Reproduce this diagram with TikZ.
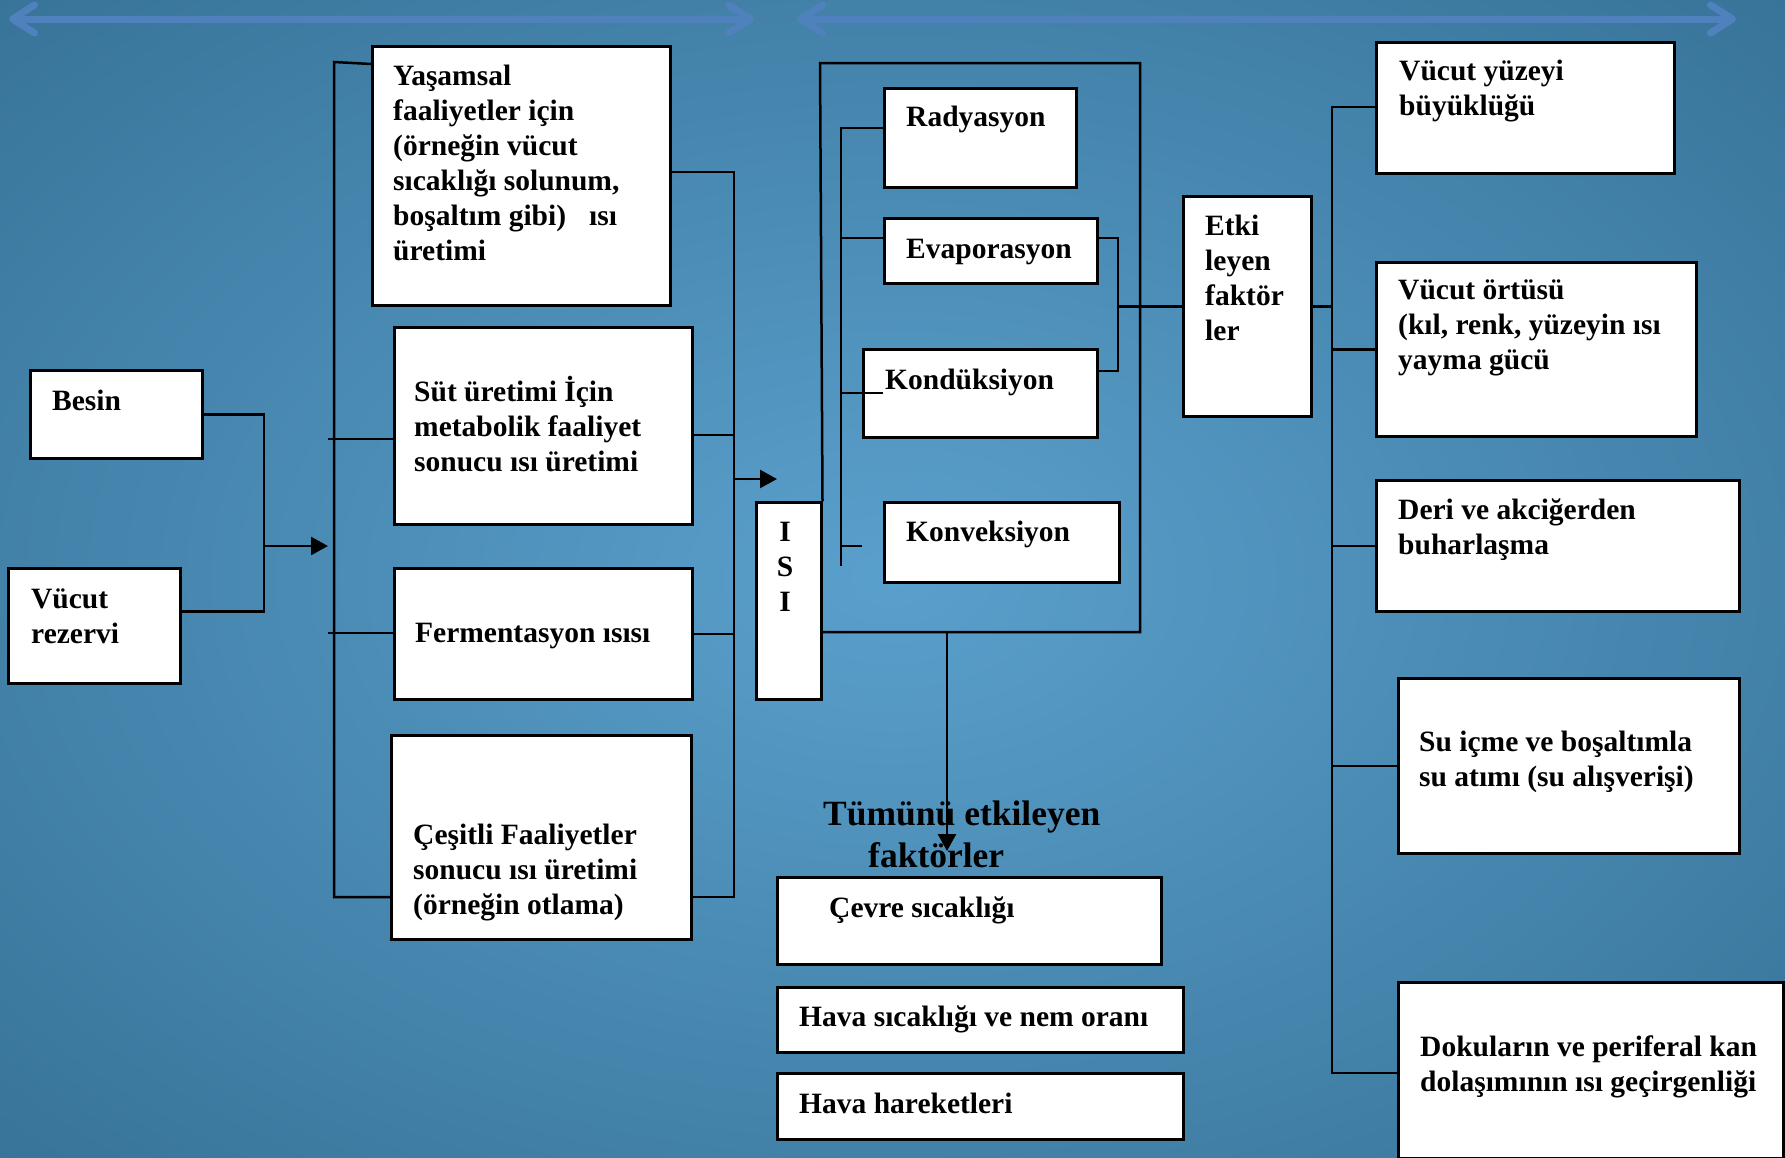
\documentclass[tikz,border=0pt]{standalone}
\usepackage{fontspec}
\setmainfont{Liberation Serif}
\usepackage{tikz}
\usetikzlibrary{arrows.meta,calc}

\definecolor{bgin}{HTML}{5AA0CC}
\definecolor{bgout}{HTML}{1B4D6D}
\definecolor{arrblue}{HTML}{4F81BD}
\pgfdeclareradialshading{bgshade}{\pgfpoint{0bp}{0bp}}{color(0bp)=(bgin); color(66bp)=(bgout)}

\tikzset{
  box/.style={draw, line width=2.5pt, fill=white, anchor=north west, inner sep=0pt},
  % text placed by the baseline of its first line
  txt/.style={anchor=north west, yshift=24.5pt, align=left, inner sep=0pt,
    execute at begin node=\strut, font=\bfseries\fontsize{29.5}{35}\selectfont},
  conn/.style={line width=2.5pt},
  arr/.style={conn, -{Triangle[length=17pt,width=18pt]}},
  topar/.style={draw=arrblue, line width=7pt, line cap=round,
    {Straight Barb[length=22pt,width=28pt,round]}-{Straight Barb[length=22pt,width=28pt,round]}}
}

\begin{document}
\begin{tikzpicture}[x=1pt,y=-1pt]
\useasboundingbox (0,0) rectangle (1785,1157);
\shade[shading=bgshade] (0,0) rectangle (1785,1157);

% top arrows
\coordinate (t1) at (9,19);
\coordinate (t2) at (754,19);
\coordinate (t3) at (797,19);
\coordinate (t4) at (1736,19);
\draw[topar] (t1) -- (t2);
\draw[topar] (t3) -- (t4);

% sources
\node[box, minimum width=172pt, minimum height=88pt] (besin) at (29,369) {};
\node[txt] (besin-t) at ([shift={(23,41)}]besin.north west) {Besin};
\node[box, minimum width=172pt, minimum height=115pt] (vucut) at (7,567) {};
\node[txt] (vucut-t) at ([shift={(24,46)}]vucut.north west) {Vücut\\rezervi};

% heat production
\node[box, minimum width=298pt, minimum height=259pt] (yasam) at (371,45) {};
\node[txt] (yasam-t) at ([shift={(22,44)}]yasam.north west)
  {Yaşamsal\\faaliyetler için\\(örneğin vücut\\sıcaklığı solunum,\\boşaltım gibi)\hspace{23pt}ısı\\üretimi};
\node[box, minimum width=298pt, minimum height=197pt] (sut) at (393,326) {};
\node[txt] (sut-t) at ([shift={(21,75)}]sut.north west)
  {Süt üretimi İçin\\metabolik faaliyet\\sonucu ısı üretimi};
\node[box, minimum width=298pt, minimum height=131pt] (ferm) at (393,567) {};
\node[txt] (ferm-t) at ([shift={(22,75)}]ferm.north west) {Fermentasyon ısısı};
\node[box, minimum width=300pt, minimum height=204pt] (cesit) at (390,734) {};
\node[txt] (cesit-t) at ([shift={(23,114)}]cesit.north west)
  {Çeşitli Faaliyetler\\sonucu ısı üretimi\\(örneğin otlama)};

% heat
\node[box, minimum width=65pt, minimum height=197pt] (isi) at (755,501) {};
\node[txt, anchor=north, align=center] (isi-t) at ([shift={(30,45)}]isi.north west) {I\\S\\I};

% heat loss
\node[box, minimum width=192pt, minimum height=99pt] (rad) at (883,87) {};
\node[txt] (rad-t) at ([shift={(23,39)}]rad.north west) {Radyasyon};
\node[box, minimum width=213pt, minimum height=65pt] (evap) at (883,217) {};
\node[txt] (evap-t) at ([shift={(23,41)}]evap.north west) {Evaporasyon};
\node[box, minimum width=234pt, minimum height=88pt] (kond) at (862,348) {};
\node[txt] (kond-t) at ([shift={(23,41)}]kond.north west) {Kondüksiyon};
\node[box, minimum width=235pt, minimum height=80pt] (konv) at (883,501) {};
\node[txt] (konv-t) at ([shift={(23,40)}]konv.north west) {Konveksiyon};

\node[box, minimum width=128pt, minimum height=220pt] (etki) at (1182,195) {};
\node[txt] (etki-t) at ([shift={(23,44)}]etki.north west) {Etki\\leyen\\faktör\\ler};

% affecting factors
\node[box, minimum width=298pt, minimum height=131pt] (yuzey) at (1375,41) {};
\node[txt] (yuzey-t) at ([shift={(24,43)}]yuzey.north west) {Vücut yüzeyi\\büyüklüğü};
\node[box, minimum width=320pt, minimum height=174pt] (ortu) at (1375,261) {};
\node[txt] (ortu-t) at ([shift={(23,43)}]ortu.north west)
  {Vücut örtüsü\\(kıl, renk, yüzeyin ısı\\yayma gücü};
\node[box, minimum width=363pt, minimum height=131pt] (deri) at (1375,479) {};
\node[txt] (deri-t) at ([shift={(23,44)}]deri.north west) {Deri ve akciğerden\\buharlaşma};
\node[box, minimum width=341pt, minimum height=175pt] (suic) at (1397,677) {};
\node[txt] (suic-t) at ([shift={(22,78)}]suic.north west)
  {Su içme ve boşaltımla\\su atımı (su alışverişi)};
\node[box, minimum width=385pt, minimum height=176pt] (doku) at (1397,981) {};
\node[txt] (doku-t) at ([shift={(23,79)}]doku.north west)
  {Dokuların ve periferal kan\\dolaşımının ısı geçirgenliği};

% environment
\node[txt, yshift=4.9pt, font=\bfseries\fontsize{35.5}{42}\selectfont] (title) at (823,830)
  {Tümünü etkileyen\\\hspace*{45pt}faktörler};
\node[box, minimum width=384pt, minimum height=87pt] (cevre) at (776,876) {};
\node[txt] (cevre-t) at ([shift={(53,41)}]cevre.north west) {Çevre sıcaklığı};
\node[box, minimum width=406pt, minimum height=65pt] (hava) at (776,986) {};
\node[txt] (hava-t) at ([shift={(23,40)}]hava.north west) {Hava sıcaklığı ve nem oranı};
\node[box, minimum width=406pt, minimum height=66pt] (harek) at (776,1072) {};
\node[txt] (harek-t) at ([shift={(23,41)}]harek.north west) {Hava hareketleri};

% left side connectors
\coordinate (jn) at (264,546);
\coordinate (jn-e) at (328,546);
\draw[conn] (besin.east) -| (jn);
\draw[conn] ([yshift=14.5pt]vucut.east) -| (jn);
\draw[arr] (jn) -- (jn-e);

\coordinate (lb1) at (334,62);
\coordinate (lb2) at (334,897);
\draw[conn] ([yshift=-19pt]yasam.north west) -- (lb1) -- (lb2) -- (lb2 -| cesit.west);
\coordinate (ls1) at (328,439);
\coordinate (ls2) at (328,633);
\draw[conn] (ls1) -- (ls1 -| sut.west);
\draw[conn] (ls2) -- (ls2 -| ferm.west);

\coordinate (rb1) at (734,172);
\coordinate (rb2) at (734,897);
\draw[conn] (rb1 -| yasam.east) -- (rb1) -- (rb2) -- (rb2 -| cesit.east);
\coordinate (rs1) at (734,435);
\draw[conn] (rs1 -| sut.east) -- (rs1);
\draw[conn] (ferm.east) -- (ferm.east -| rb1);
\coordinate (ra) at (734,479);
\coordinate (ra-e) at (777,479);
\draw[arr] (ra) -- (ra-e);

% frame around heat loss
\coordinate (fr1) at (820,63);
\coordinate (fr2) at (1140,63);
\coordinate (fr3) at (1140,632);
\draw[conn] (isi.north east) -- (fr1) -- (fr2) -- (fr3) -- (fr3 -| isi.east);
\coordinate (dn) at (947,632);
\coordinate (dn-e) at (947,851);
\draw[arr] (dn) -- (dn-e);

\coordinate (ib1) at (841,128);
\coordinate (ib2) at (841,566);
\draw[conn] (ib1 -| rad.west) -- (ib1) -- (ib2);
\coordinate (ie) at (841,238);
\coordinate (ik) at (841,393);
\coordinate (ic) at (841,546);
\draw[conn] (ie) -- (ie -| evap.west);
\draw[conn] (ik) -- (ik -| rad.west);
\draw[conn] (ic) -- (ic -| kond.west);

\coordinate (sb1) at (1118,238);
\coordinate (sb2) at (1118,371);
\draw[conn] (sb1 -| evap.east) -- (sb1) -- (sb2) -- (sb2 -| kond.east);
\draw[conn] (etki.west -| sb1) -- (etki.west);

% right side connectors
\coordinate (rr1) at (1332,107);
\coordinate (rr2) at (1332,1073);
\draw[conn] (etki.east) -- (etki.east -| rr1);
\draw[conn] (yuzey.west |- rr1) -- (rr1) -- (rr2) -- (rr2 -| doku.west);
\draw[conn] (ortu.west -| rr1) -- (ortu.west);
\draw[conn] (deri.west -| rr1) -- (deri.west);
\draw[conn] (suic.west -| rr1) -- (suic.west);
\end{tikzpicture}
\end{document}
